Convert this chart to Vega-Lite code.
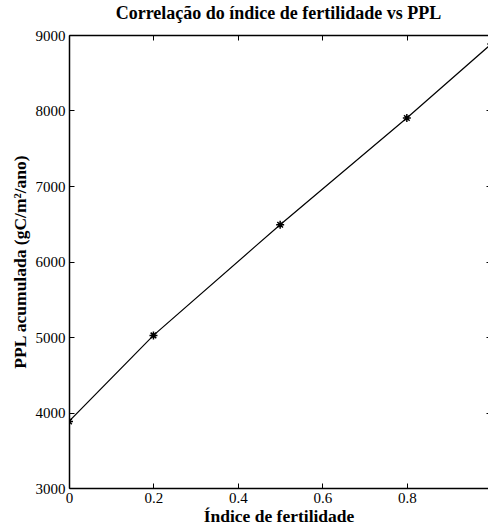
{
  "$schema": "https://vega.github.io/schema/vega-lite/v6.json",
  "autosize": {"type": "none"},
  "padding": {"left": 69, "top": 35, "right": 0, "bottom": 36},
  "width": 419,
  "height": 453,
  "config": {
    "font": "Liberation Serif",
    "view": {"stroke": null},
    "axis": {"grid": false, "domainColor": "black", "tickColor": "black", "labelColor": "black", "titleColor": "black", "domainWidth": 1.5, "tickWidth": 1, "labelFont": "Liberation Serif", "titleFont": "Liberation Serif", "labelFontSize": 15, "titleFontSize": 17.5, "titleFontWeight": "bold"}
  },
  "title": {"text": "Correlação do índice de fertilidade vs PPL", "font": "Liberation Serif", "fontSize": 18, "fontWeight": "bold", "color": "black", "anchor": "middle", "offset": 5},
  "data": {"values": [
    {"x": 0, "y": 3882},
    {"x": 0.2, "y": 5021},
    {"x": 0.5, "y": 6487},
    {"x": 0.8, "y": 7901},
    {"x": 1.0, "y": 8881}
  ]},
  "layer": [
    {
      "mark": {"type": "line", "color": "black", "strokeWidth": 1.2, "clip": true},
      "encoding": {
        "x": {"field": "x", "type": "quantitative", "scale": {"domain": [0, 0.9922], "nice": false, "zero": false},
              "axis": {"orient": "bottom", "title": "Índice de fertilidade", "values": [0, 0.2, 0.4, 0.6, 0.8], "format": "~g", "tickSize": -5, "labelPadding": 7, "titlePadding": 2, "labelFlush": false}},
        "y": {"field": "y", "type": "quantitative", "scale": {"domain": [3000, 9000], "nice": false, "zero": false},
              "axis": {"orient": "left", "title": "PPL acumulada (gC/m²/ano)", "values": [3000, 4000, 5000, 6000, 7000, 8000, 9000], "format": "d", "tickSize": -5, "labelPadding": 9, "titlePadding": 6, "labelFlush": false}}
      }
    },
    {
      "mark": {"type": "point", "shape": "M-1,0L1,0M0,-1L0,1M-0.7,-0.7L0.7,0.7M-0.7,0.7L0.7,-0.7", "filled": false, "color": "black", "strokeWidth": 1.5, "size": 64, "opacity": 1, "clip": true},
      "encoding": {
        "x": {"field": "x", "type": "quantitative", "axis": {"orient": "top", "title": null, "labels": false, "values": [0, 0.2, 0.4, 0.6, 0.8], "tickSize": -5}},
        "y": {"field": "y", "type": "quantitative", "axis": {"orient": "right", "title": null, "labels": false, "domain": false, "values": [3000, 4000, 5000, 6000, 7000, 8000, 9000], "tickSize": -2}}
      }
    }
  ],
  "resolve": {"axis": {"x": "independent", "y": "independent"}}
}
